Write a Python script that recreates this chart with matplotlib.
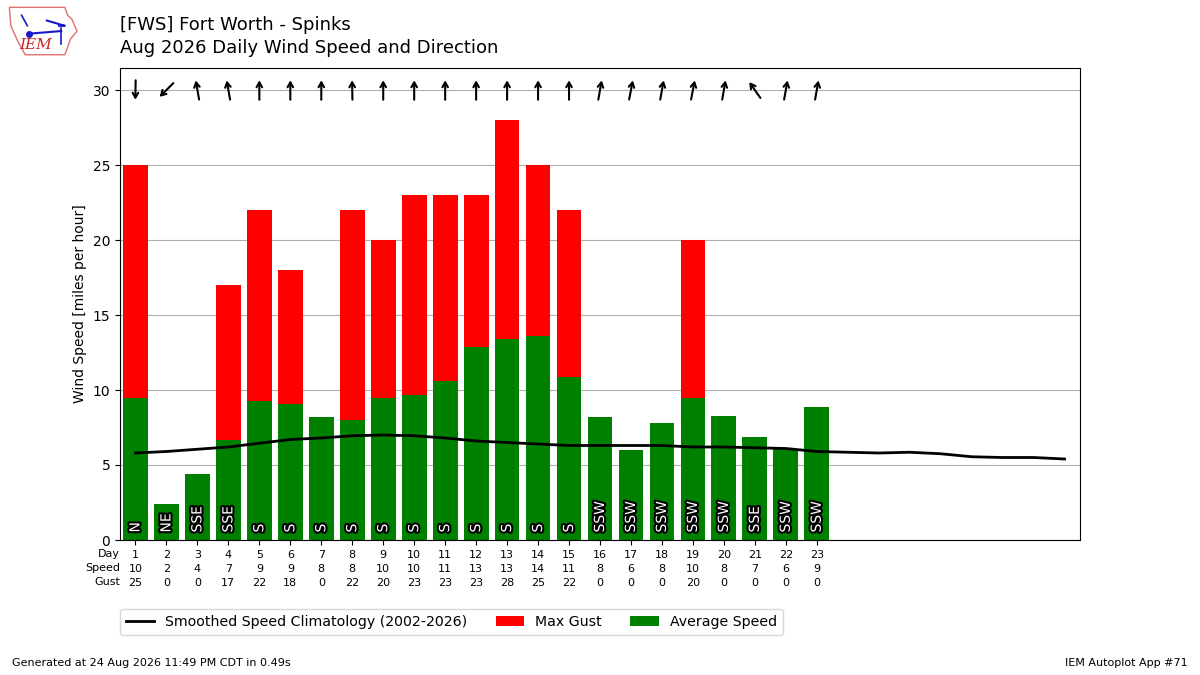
import math
import matplotlib
matplotlib.use("Agg")
import matplotlib.pyplot as plt
import matplotlib.patheffects as PathEffects
from matplotlib.patches import Polygon
from matplotlib.text import OffsetFrom

days = list(range(1, 24))
avg_speed = [9.5, 2.4, 4.4, 6.7, 9.3, 9.1, 8.2, 8.0, 9.5, 9.7, 10.6, 12.9,
             13.4, 13.6, 10.9, 8.2, 6.0, 7.8, 9.5, 8.3, 6.9, 6.1, 8.9]
max_gust = [25, 0, 0, 17, 22, 18, 0, 22, 20, 23, 23, 23, 28, 25, 22,
            0, 0, 0, 20, 0, 0, 0, 0]
drct_deg = [1, 45, 170, 170, 180, 180, 180, 179, 180, 180, 180, 180, 180,
            180, 180, 190, 191, 190, 191, 190, 145, 190, 190]
drct_txt = ["N", "NE", "SSE", "SSE", "S", "S", "S", "S", "S", "S", "S", "S",
            "S", "S", "S", "SSW", "SSW", "SSW", "SSW", "SSW", "SSE", "SSW", "SSW"]
speed_lbl = [10, 2, 4, 7, 9, 9, 8, 8, 10, 10, 11, 13, 13, 14, 11, 8, 6, 8, 10, 8, 7, 6, 9]
gust_lbl = [25, 0, 0, 17, 22, 18, 0, 22, 20, 23, 23, 23, 28, 25, 22, 0, 0, 0, 20, 0, 0, 0, 0]
clim_days = list(range(1, 32))
clim_speed = [5.8, 5.9, 6.05, 6.2, 6.45, 6.7, 6.8, 6.95, 7.0, 6.95, 6.8, 6.6,
              6.5, 6.4, 6.3, 6.3, 6.3, 6.3, 6.2, 6.2, 6.15, 6.1, 5.9, 5.85,
              5.8, 5.85, 5.75, 5.55, 5.5, 5.5, 5.4]

fig = plt.figure(figsize=(12, 6.75), dpi=100)
ax = fig.add_axes([0.1, 0.2, 0.8, 0.7])

ax.plot(clim_days, clim_speed, color="k", lw=2,
        label="Smoothed Speed Climatology (2002-2026)", zorder=3)
ax.bar(days, max_gust, color="r", label="Max Gust", align="center", zorder=2)
ax.bar(days, avg_speed, color="g", label="Average Speed", align="center", zorder=2)

for d, txt in zip(days, drct_txt):
    t = ax.text(d, 0.5, txt, rotation=90, ha="center", va="bottom",
                color="white", fontsize=10, zorder=4)
    t.set_path_effects([PathEffects.withStroke(linewidth=3, foreground="k")])

ax.set_xlim(0.5, 31.5)
ax.set_ylim(0, 31.5)

half = 7.0  # half arrow length in points
for d, deg in zip(days, drct_deg):
    to = math.radians(deg + 180)
    dx, dy = math.sin(to) * half, math.cos(to) * half
    ax.annotate("", xy=(dx, dy), xycoords=OffsetFrom(ax.transData, (d, 30), unit="points"),
                xytext=(-dx, -dy), textcoords=OffsetFrom(ax.transData, (d, 30), unit="points"),
                arrowprops=dict(arrowstyle="->,head_length=0.35,head_width=0.2",
                                lw=1.5, color="k", shrinkA=0, shrinkB=0),
                zorder=4)

ax.set_yticks(range(0, 31, 5))
ax.grid(axis="y", zorder=0)
ax.set_axisbelow(True)
ax.set_ylabel("Wind Speed [miles per hour]")
ax.set_xticks(days)
ax.set_xticklabels([f"{d}\n{s}\n{g}" for d, s, g in zip(days, speed_lbl, gust_lbl)],
                   fontsize=8)
for lbl in ax.get_xticklabels():
    lbl.set_linespacing(1.5)
ax.text(0.0, -0.018, "Day\nSpeed\nGust", transform=ax.transAxes,
        ha="right", va="top", fontsize=8, linespacing=1.5)
ax.tick_params(axis="y", labelsize=10)

ax.legend(ncol=3, loc="upper left", bbox_to_anchor=(-0.0075, -0.1315), fontsize=10.2)

fig.text(0.1, 0.915, "[FWS] Fort Worth - Spinks\nAug 2026 Daily Wind Speed and Direction",
         fontsize=13, ha="left", va="bottom", linespacing=1.35)
fig.text(0.01, 0.01, "Generated at 24 Aug 2026 11:49 PM CDT in 0.49s",
         fontsize=8, ha="left", va="bottom")
fig.text(0.99, 0.01, "IEM Autoplot App #71", fontsize=8, ha="right", va="bottom")

# simple logo
lax = fig.add_axes([0.006, 0.915, 0.06, 0.078])
lax.set_axis_off()
lax.set_xlim(0, 1)
lax.set_ylim(0, 1)
lax.add_patch(Polygon([(0.03, 0.95), (0.8, 0.95), (0.84, 0.8), (0.9, 0.72),
                       (0.97, 0.5), (0.88, 0.35), (0.84, 0.2), (0.8, 0.05),
                       (0.25, 0.05), (0.15, 0.3), (0.05, 0.6)], closed=True,
                      fill=False, ec="#e07070", lw=1))
lax.text(0.4, 0.1, "IEM", color="#cc2222", fontsize=11, family="DejaVu Serif",
         style="italic", ha="center", va="bottom")
lax.plot([0.3, 0.75], [0.45, 0.5], color="#1a1acc", lw=1.5)
lax.plot([0.3], [0.45], "o", color="#1a1acc", ms=4)
lax.plot([0.2, 0.28], [0.8, 0.6], color="#1a1acc", lw=1.2)
lax.plot([0.55, 0.8, 0.72], [0.7, 0.6, 0.6], color="#1a1acc", lw=1.5)
lax.plot([0.75, 0.75], [0.55, 0.25], color="#1a1acc", lw=1.2)

fig.savefig("out.png", dpi=100)
